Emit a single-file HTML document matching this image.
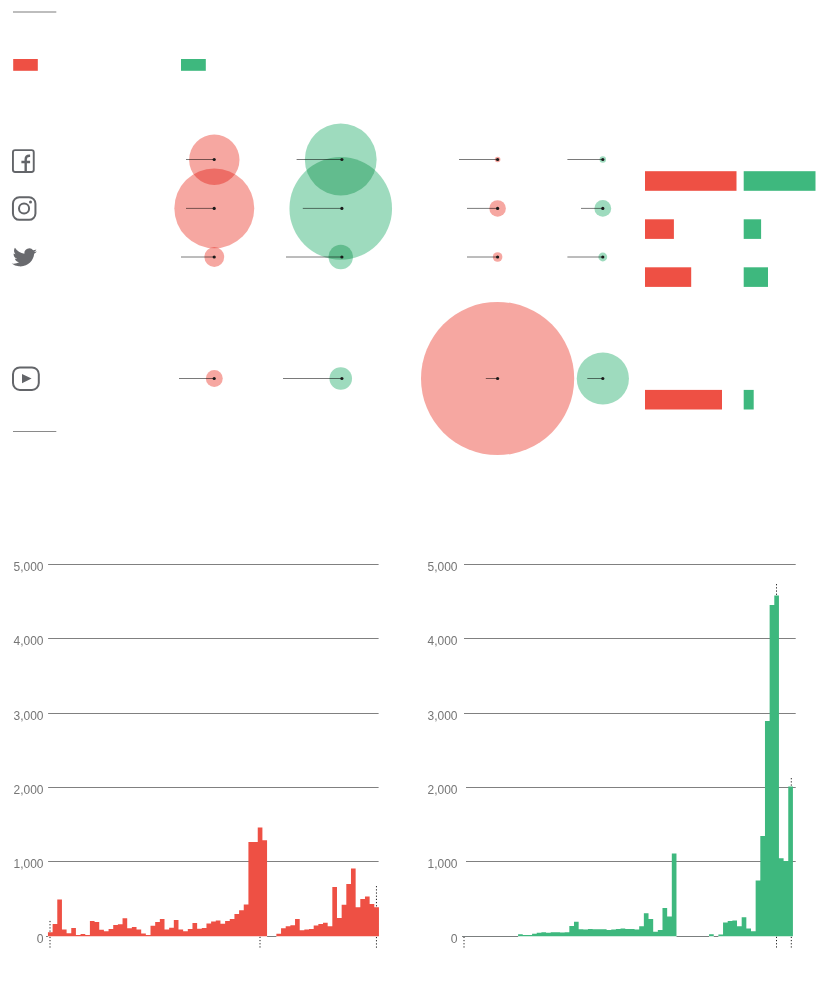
<!DOCTYPE html>
<html lang="en"><head><meta charset="utf-8"><title>Social media chart</title>
<style>html,body{margin:0;padding:0;background:#fff}svg{display:block}</style></head>
<body>
<svg width="830" height="984" viewBox="0 0 830 984">
<rect x="13" y="11" width="43.3" height="2" fill="#bdbdbd"/>
<rect x="13.2" y="59" width="24.6" height="11.8" fill="#EE5044"/>
<rect x="181" y="59" width="24.8" height="11.8" fill="#3EB87E"/>
<rect x="13" y="431" width="43.3" height="1" fill="#8a8a8a"/>
<g fill="none" stroke="#636569" stroke-linejoin="round">
<rect x="12.95" y="150.15" width="20.8" height="21.8" rx="2.2" stroke-width="1.9"/>
<path d="M25.7,172 V159.3 Q25.7,155.7 29.3,155.7 H30.1 M21.4,162 H30.1" stroke-width="2.4"/>
<rect x="12.95" y="197.25" width="22.5" height="22.6" rx="6.4" stroke-width="2"/>
<circle cx="24.05" cy="208.45" r="5.05" stroke-width="2"/>
<rect x="13" y="367.4" width="25.8" height="22.5" rx="6.8" stroke-width="2"/>
</g>
<circle cx="30.5" cy="201.9" r="1.5" fill="#636569"/>
<path d="M22,374.1 L31.6,378.6 L22,383.3Z" fill="#636569"/>
<path transform="translate(12.39,245.76) scale(0.99,0.969) rotate(6 12 12)" d="M23.953 4.57a10 10 0 01-2.825.775 4.958 4.958 0 002.163-2.723c-.951.555-2.005.959-3.127 1.184a4.92 4.92 0 00-8.384 4.482C7.69 8.095 4.067 6.13 1.64 3.162a4.822 4.822 0 00-.666 2.475c0 1.71.87 3.213 2.188 4.096a4.904 4.904 0 01-2.228-.616v.06a4.923 4.923 0 003.946 4.827 4.996 4.996 0 01-2.212.085 4.936 4.936 0 004.604 3.417 9.867 9.867 0 01-6.102 2.105c-.39 0-.779-.023-1.17-.067a13.995 13.995 0 007.557 2.209c9.053 0 13.998-7.496 13.998-13.985 0-.21 0-.42-.015-.63A9.935 9.935 0 0024 4.59z" fill="#696a6e"/>
<circle cx="214.3" cy="159.8" r="25.2" fill="#EE5044" fill-opacity="0.5" style="mix-blend-mode:multiply"/>
<circle cx="214.3" cy="208.35" r="39.95" fill="#EE5044" fill-opacity="0.5" style="mix-blend-mode:multiply"/>
<circle cx="214.3" cy="257.0" r="9.9" fill="#EE5044" fill-opacity="0.5" style="mix-blend-mode:multiply"/>
<circle cx="214.3" cy="378.5" r="8.45" fill="#EE5044" fill-opacity="0.5" style="mix-blend-mode:multiply"/>
<circle cx="340.75" cy="159.5" r="35.9" fill="#3EB87E" fill-opacity="0.5" style="mix-blend-mode:multiply"/>
<circle cx="340.75" cy="208.4" r="51.3" fill="#3EB87E" fill-opacity="0.5" style="mix-blend-mode:multiply"/>
<circle cx="340.75" cy="257.0" r="12.2" fill="#3EB87E" fill-opacity="0.5" style="mix-blend-mode:multiply"/>
<circle cx="340.75" cy="378.5" r="11.3" fill="#3EB87E" fill-opacity="0.5" style="mix-blend-mode:multiply"/>
<circle cx="497.6" cy="159.5" r="2.8" fill="#EE5044" fill-opacity="0.5" style="mix-blend-mode:multiply"/>
<circle cx="497.6" cy="208.4" r="8.25" fill="#EE5044" fill-opacity="0.5" style="mix-blend-mode:multiply"/>
<circle cx="497.6" cy="257.0" r="4.8" fill="#EE5044" fill-opacity="0.5" style="mix-blend-mode:multiply"/>
<circle cx="497.6" cy="378.5" r="76.6" fill="#EE5044" fill-opacity="0.5" style="mix-blend-mode:multiply"/>
<circle cx="602.8" cy="159.5" r="3.2" fill="#3EB87E" fill-opacity="0.5" style="mix-blend-mode:multiply"/>
<circle cx="602.8" cy="208.4" r="8.4" fill="#3EB87E" fill-opacity="0.5" style="mix-blend-mode:multiply"/>
<circle cx="602.8" cy="257.0" r="4.4" fill="#3EB87E" fill-opacity="0.5" style="mix-blend-mode:multiply"/>
<circle cx="602.85" cy="378.5" r="26.1" fill="#3EB87E" fill-opacity="0.5" style="mix-blend-mode:multiply"/>
<line x1="186" y1="159.5" x2="214.2" y2="159.5" stroke="#000" stroke-opacity="0.52" stroke-width="1"/>
<circle cx="214.2" cy="159.5" r="1.6" fill="#1a1a1a"/>
<line x1="186" y1="208.4" x2="214.2" y2="208.4" stroke="#000" stroke-opacity="0.52" stroke-width="1"/>
<circle cx="214.2" cy="208.4" r="1.6" fill="#1a1a1a"/>
<line x1="181" y1="257.0" x2="214.2" y2="257.0" stroke="#000" stroke-opacity="0.52" stroke-width="1"/>
<circle cx="214.2" cy="257.0" r="1.6" fill="#1a1a1a"/>
<line x1="179" y1="378.5" x2="214.2" y2="378.5" stroke="#000" stroke-opacity="0.52" stroke-width="1"/>
<circle cx="214.2" cy="378.5" r="1.6" fill="#1a1a1a"/>
<line x1="296.6" y1="159.5" x2="341.9" y2="159.5" stroke="#000" stroke-opacity="0.52" stroke-width="1"/>
<circle cx="341.9" cy="159.5" r="1.6" fill="#1a1a1a"/>
<line x1="302.8" y1="208.4" x2="341.9" y2="208.4" stroke="#000" stroke-opacity="0.52" stroke-width="1"/>
<circle cx="341.9" cy="208.4" r="1.6" fill="#1a1a1a"/>
<line x1="286" y1="257.0" x2="341.9" y2="257.0" stroke="#000" stroke-opacity="0.52" stroke-width="1"/>
<circle cx="341.9" cy="257.0" r="1.6" fill="#1a1a1a"/>
<line x1="283" y1="378.5" x2="341.9" y2="378.5" stroke="#000" stroke-opacity="0.52" stroke-width="1"/>
<circle cx="341.9" cy="378.5" r="1.6" fill="#1a1a1a"/>
<line x1="459" y1="159.5" x2="497.6" y2="159.5" stroke="#000" stroke-opacity="0.52" stroke-width="1"/>
<circle cx="497.6" cy="159.5" r="1.6" fill="#1a1a1a"/>
<line x1="467" y1="208.4" x2="497.6" y2="208.4" stroke="#000" stroke-opacity="0.52" stroke-width="1"/>
<circle cx="497.6" cy="208.4" r="1.6" fill="#1a1a1a"/>
<line x1="467" y1="257.0" x2="497.6" y2="257.0" stroke="#000" stroke-opacity="0.52" stroke-width="1"/>
<circle cx="497.6" cy="257.0" r="1.6" fill="#1a1a1a"/>
<line x1="485.8" y1="378.5" x2="497.6" y2="378.5" stroke="#000" stroke-opacity="0.52" stroke-width="1"/>
<circle cx="497.6" cy="378.5" r="1.6" fill="#1a1a1a"/>
<line x1="567.4" y1="159.5" x2="602.8" y2="159.5" stroke="#000" stroke-opacity="0.52" stroke-width="1"/>
<circle cx="602.8" cy="159.5" r="1.6" fill="#1a1a1a"/>
<line x1="581" y1="208.4" x2="602.8" y2="208.4" stroke="#000" stroke-opacity="0.52" stroke-width="1"/>
<circle cx="602.8" cy="208.4" r="1.6" fill="#1a1a1a"/>
<line x1="567.4" y1="257.0" x2="602.8" y2="257.0" stroke="#000" stroke-opacity="0.52" stroke-width="1"/>
<circle cx="602.8" cy="257.0" r="1.6" fill="#1a1a1a"/>
<line x1="587.3" y1="378.5" x2="602.8" y2="378.5" stroke="#000" stroke-opacity="0.52" stroke-width="1"/>
<circle cx="602.8" cy="378.5" r="1.6" fill="#1a1a1a"/>
<rect x="645" y="171.2" width="91.5" height="19.6" fill="#EE5044"/>
<rect x="743.7" y="171.2" width="71.8" height="19.6" fill="#3EB87E"/>
<rect x="645" y="219.3" width="28.9" height="19.6" fill="#EE5044"/>
<rect x="743.7" y="219.3" width="17.4" height="19.6" fill="#3EB87E"/>
<rect x="645" y="267.3" width="46.2" height="19.6" fill="#EE5044"/>
<rect x="743.7" y="267.3" width="24.3" height="19.6" fill="#3EB87E"/>
<rect x="645" y="389.9" width="77.0" height="19.6" fill="#EE5044"/>
<rect x="743.7" y="389.9" width="10.0" height="19.6" fill="#3EB87E"/>
<g font-family="'Liberation Sans', Arial, sans-serif" font-size="12.2" fill="#767676">
<rect x="48.1" y="564" width="330.5" height="1" fill="#808080"/>
<text x="43.5" y="571.0" text-anchor="end" textLength="30" lengthAdjust="spacingAndGlyphs">5,000</text>
<rect x="48.1" y="638" width="330.5" height="1" fill="#808080"/>
<text x="43.5" y="645.0" text-anchor="end" textLength="30" lengthAdjust="spacingAndGlyphs">4,000</text>
<rect x="48.1" y="713" width="330.5" height="1" fill="#808080"/>
<text x="43.5" y="720.0" text-anchor="end" textLength="30" lengthAdjust="spacingAndGlyphs">3,000</text>
<rect x="48.1" y="787" width="330.5" height="1" fill="#808080"/>
<text x="43.5" y="794.0" text-anchor="end" textLength="30" lengthAdjust="spacingAndGlyphs">2,000</text>
<rect x="48.1" y="861" width="330.5" height="1" fill="#808080"/>
<text x="43.5" y="868.0" text-anchor="end" textLength="30" lengthAdjust="spacingAndGlyphs">1,000</text>
<text x="43.5" y="943.0" text-anchor="end">0</text>
<line x1="50.0" y1="920.95" x2="50.0" y2="947.8" stroke="#1c1c1c" stroke-width="1" stroke-dasharray="1.2,1.98"/>
<line x1="260.0" y1="936.8" x2="260.0" y2="947.8" stroke="#1c1c1c" stroke-width="1" stroke-dasharray="1.2,1.98"/>
<line x1="376.45" y1="886.08" x2="376.45" y2="947.8" stroke="#1c1c1c" stroke-width="1" stroke-dasharray="1.2,1.98"/>
<rect x="46.00" y="936" width="1.95" height="1" fill="#7b7f7f"/>
<rect x="267.06" y="936" width="9.32" height="1" fill="#7b7f7f"/>
<path d="M47.95,936.25V932.3H52.61V924.1H57.27V899.4H61.94V929.4H66.60V933.3H71.26V928.0H75.92V935.1H80.58V934.1H85.25V934.9H89.91V921.0H94.57V921.9H99.23V929.8H103.89V931.2H108.56V929.0H113.22V924.9H117.88V924.3H122.54V918.2H127.20V928.2H131.87V927.0H136.53V929.4H141.19V933.4H145.85V934.9H150.51V925.8H155.18V921.9H159.84V918.9H164.50V929.4H169.16V927.8H173.82V920.0H178.49V929.6H183.15V931.2H187.81V929.1H192.47V923.1H197.13V928.8H201.80V928.1H206.46V923.4H211.12V921.4H215.78V920.5H220.44V923.8H225.11V921.0H229.77V919.1H234.43V914.1H239.09V910.3H243.75V904.6H248.42V842.0H253.08V842.0H257.74V827.5H262.40V840.3H267.06V936.25ZM276.39,936.25V933.7H281.05V928.3H285.71V926.3H290.37V925.2H295.04V918.9H299.70V930.3H304.36V929.4H309.02V929.1H313.68V925.6H318.35V923.9H323.01V922.8H327.67V926.3H332.33V887.1H336.99V918.1H341.66V904.8H346.32V884.0H350.98V868.5H355.64V907.2H360.30V899.0H364.97V896.5H369.63V904.0H374.29V907.2H378.95V936.25Z" fill="#EE5044"/>
<rect x="464" y="564" width="331.7" height="1" fill="#808080"/>
<text x="457.5" y="571.0" text-anchor="end" textLength="30" lengthAdjust="spacingAndGlyphs">5,000</text>
<rect x="464" y="638" width="331.7" height="1" fill="#808080"/>
<text x="457.5" y="645.0" text-anchor="end" textLength="30" lengthAdjust="spacingAndGlyphs">4,000</text>
<rect x="464" y="713" width="331.7" height="1" fill="#808080"/>
<text x="457.5" y="720.0" text-anchor="end" textLength="30" lengthAdjust="spacingAndGlyphs">3,000</text>
<rect x="466" y="787" width="329.7" height="1" fill="#808080"/>
<text x="457.5" y="794.0" text-anchor="end" textLength="30" lengthAdjust="spacingAndGlyphs">2,000</text>
<rect x="466" y="861" width="329.7" height="1" fill="#808080"/>
<text x="457.5" y="868.0" text-anchor="end" textLength="30" lengthAdjust="spacingAndGlyphs">1,000</text>
<text x="457.5" y="943.0" text-anchor="end">0</text>
<line x1="464.0" y1="936.8" x2="464.0" y2="947.8" stroke="#1c1c1c" stroke-width="1" stroke-dasharray="1.2,1.98"/>
<line x1="776.5" y1="584.1" x2="776.5" y2="596" stroke="#1c1c1c" stroke-width="1" stroke-dasharray="1.2,1.98"/>
<line x1="776.5" y1="936.8" x2="776.5" y2="947.8" stroke="#1c1c1c" stroke-width="1" stroke-dasharray="1.2,1.98"/>
<line x1="791.3" y1="778.1" x2="791.3" y2="788" stroke="#1c1c1c" stroke-width="1" stroke-dasharray="1.2,1.98"/>
<line x1="791.3" y1="936.8" x2="791.3" y2="947.8" stroke="#1c1c1c" stroke-width="1" stroke-dasharray="1.2,1.98"/>
<rect x="462.00" y="936" width="56.10" height="1" fill="#7b7f7f"/>
<rect x="676.47" y="936" width="32.61" height="1" fill="#7b7f7f"/>
<rect x="713.73" y="936" width="4.66" height="1" fill="#7b7f7f"/>
<path d="M518.10,936.25V934.3H522.75V934.9H527.41V934.9H532.07V933.7H536.73V932.8H541.39V932.2H546.04V932.8H550.70V932.2H555.36V932.2H560.02V932.5H564.68V932.2H569.33V926.1H573.99V921.8H578.65V929.3H583.31V929.6H587.97V929.1H592.62V929.3H597.28V929.3H601.94V929.3H606.60V929.9H611.26V929.5H615.91V929.0H620.57V928.6H625.23V929.0H629.89V928.9H634.55V929.6H639.20V926.2H643.86V913.3H648.52V919.1H653.18V931.8H657.84V930.1H662.49V908.1H667.15V916.6H671.81V853.4H676.47V936.25ZM709.07,936.25V934.3H713.73V936.25ZM718.39,936.25V934.5H723.05V922.5H727.71V920.9H732.36V920.5H737.02V926.2H741.68V917.2H746.34V928.4H751.00V931.2H755.65V880.6H760.31V835.9H764.97V721.0H769.63V605.1H774.29V595.4H778.94V858.2H783.60V861.1H788.26V786.6H792.92V936.25Z" fill="#3EB87E"/>
</g>
</svg>
</body></html>
